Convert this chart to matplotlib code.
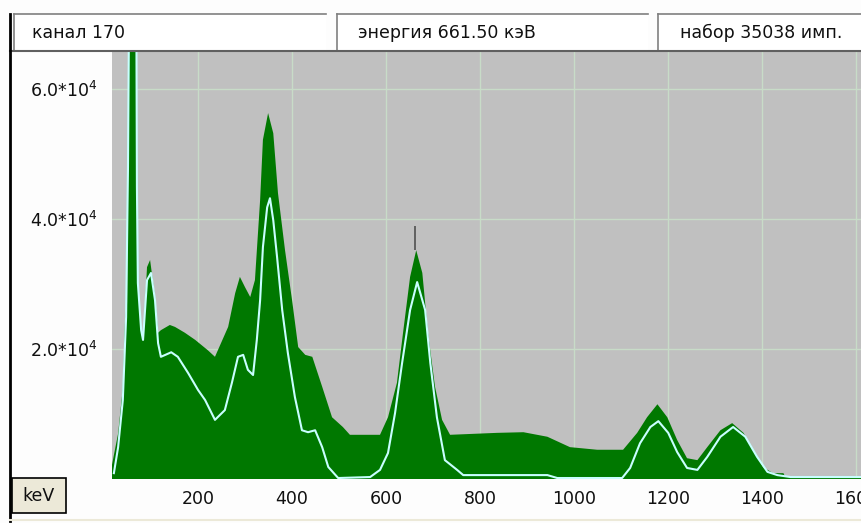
import matplotlib
matplotlib.use("Agg")
import matplotlib.pyplot as plt
from matplotlib.patches import Rectangle

# spectrum 1 (filled, green)
green_kev = [15, 17, 30, 40, 45, 49, 51, 55, 66, 70, 72, 79, 83, 91.5, 98,
             108.5, 115, 121, 140, 151, 172, 194, 221, 236, 264, 279, 289,
             300, 311, 321, 332, 338, 349, 360, 370, 385, 400, 413, 428, 443,
             464, 485, 508, 523, 587, 604, 623, 636, 651, 664, 677, 689, 704,
             719, 736, 836, 892, 943, 991, 1049, 1104, 1134, 1155, 1177, 1198,
             1219, 1240, 1262, 1283, 1311, 1336, 1360, 1381, 1402, 1423, 1445,
             1449, 1610]
green_counts = [2000, 2200, 7000, 14000, 25000, 27000, 48000, 90000, 90000,
                45000, 30000, 22500, 21400, 32600, 33700, 28000, 22500, 22900,
                23700, 23400, 22500, 21400, 19800, 18800, 23400, 28600, 31100,
                29500, 28000, 30600, 42900, 52200, 56300, 53200, 44000, 35200,
                27500, 20300, 19100, 18800, 14200, 9500, 8000, 6800, 6800, 9500,
                14800, 22500, 31100, 35200, 31700, 22500, 14200, 9100, 6800,
                7100, 7200, 6500, 4900, 4500, 4500, 7100, 9500, 11500, 9500,
                6000, 3200, 2900, 4900, 7500, 8600, 7100, 4500, 1800, 900, 900,
                300, 300]

# spectrum 2 (line, light cyan)
cyan_kev = [21, 30, 40, 47, 51, 55, 68, 70, 72, 79, 83, 91.5, 100, 108.5,
            115, 121, 143, 157, 179, 200, 215, 236, 257, 272, 285, 296, 306,
            317, 325, 332, 338, 347, 353, 360, 368, 379, 391, 406, 421, 434,
            449, 464, 477, 498, 566, 587, 604, 619, 634, 651, 666, 683, 694,
            708, 725, 751, 764, 943, 964, 1102, 1119, 1140, 1162, 1179, 1200,
            1219, 1240, 1262, 1283, 1311, 1338, 1364, 1389, 1411, 1432, 1460,
            1610]
cyan_counts = [900, 4900, 12150, 24900, 48000, 90000, 90000, 45000, 30150,
               22900, 21400, 30600, 31700, 27500, 20900, 18800, 19500, 18800,
               16300, 13700, 12150, 9100, 10600, 14800, 18800, 19100, 16800,
               16000, 21400, 27500, 35700, 41800, 43200, 39800, 34200, 26000,
               19400, 12600, 7500, 7200, 7500, 4900, 1850, 150, 300, 1400, 4000,
               10150, 17850, 26000, 30300, 26000, 17850, 9500, 2900, 1400, 600,
               600, 150, 150, 1700, 5500, 8000, 8900, 7100, 4150, 1700, 1400,
               3400, 6500, 8000, 6500, 3400, 1100, 600, 300, 300]

x_ticks = [200, 400, 600, 800, 1000, 1200, 1400, 1600]
y_ticks = [20000, 40000, 60000]
y_tick_labels = [r"2.0*10$^{4}$", r"4.0*10$^{4}$", r"6.0*10$^{4}$"]

cursor_kev = 661.5
cursor_top = 39000
status_texts = ["канал 170", "энергия 661.50 кэВ", "набор 35038 имп."]

W, H = 861, 523
plt.rcParams["font.family"] = ["DejaVu Sans"]
plt.rcParams["mathtext.fontset"] = "dejavusans"

fig = plt.figure(figsize=(W / 100, H / 100), dpi=100)
fig.patch.set_facecolor("#fdfdfd")


def px(x, y):
    return x / W, 1 - y / H


# status boxes on top
boxes = [(14, 326, 18), (337, 648, 21), (658, 875, 22)]
for (x0, x1, off), txt in zip(boxes, status_texts):
    fig.add_artist(Rectangle(px(x0, 50), (x1 - x0) / W, 36 / H,
                             transform=fig.transFigure, facecolor="white",
                             edgecolor="none"))
    fig.add_artist(plt.Line2D([x0 / W, x0 / W], [1 - 50 / H, 1 - 14 / H],
                              transform=fig.transFigure, color="#808080", lw=1.2))
    fig.add_artist(plt.Line2D([x0 / W, x1 / W], [1 - 14 / H, 1 - 14 / H],
                              transform=fig.transFigure, color="#808080", lw=1.2))
    fig.text(*px(x0 + off, 33), txt, fontsize=12.5, va="center", ha="left",
             color="#101010")

# frame lines
fig.add_artist(plt.Line2D([10 / W, 1], [1 - 51 / H, 1 - 51 / H],
                          transform=fig.transFigure, color="#606060", lw=1.5))
fig.add_artist(plt.Line2D([10 / W, 10 / W], [1 - 14 / H, 1 - 521 / H],
                          transform=fig.transFigure, color="black", lw=2))
fig.add_artist(plt.Line2D([10 / W, 1], [1 - 520 / H, 1 - 520 / H],
                          transform=fig.transFigure, color="#ece9d8", lw=1.5))

ax = fig.add_axes([112 / W, 44 / H, (W - 112) / W, (479 - 52) / H])
ax.set_facecolor("#c0c0c0")

ax.fill_between(green_kev, green_counts, color="#007800", lw=0, zorder=2)
ax.plot(cyan_kev, cyan_counts, color="#c8ffff", lw=1.5, zorder=3)
ax.vlines(cursor_kev, 35200, cursor_top, color="#505050", lw=1.2, zorder=4)

ax.set_xlim(17, 1610)
ax.set_ylim(0, 65700)
ax.set_xticks(x_ticks)
ax.set_yticks(y_ticks)
ax.set_yticklabels(y_tick_labels)
ax.grid(True, color="#c8dcc8", lw=1, zorder=1)
ax.set_axisbelow(True)
ax.tick_params(length=0, labelsize=12.5, colors="#101010")
ax.tick_params(axis="x", pad=8)
ax.tick_params(axis="y", pad=10)
for s in ax.spines.values():
    s.set_visible(False)

# keV button
fig.add_artist(Rectangle(px(12, 513), 54 / W, 35 / H, transform=fig.transFigure,
                         facecolor="#ece9d8", edgecolor="black", lw=1.2))
fig.text(*px(39, 496), "keV", fontsize=12.5, ha="center", va="center",
         color="#101010")

plt.savefig("out.png", dpi=100, facecolor=fig.get_facecolor())
